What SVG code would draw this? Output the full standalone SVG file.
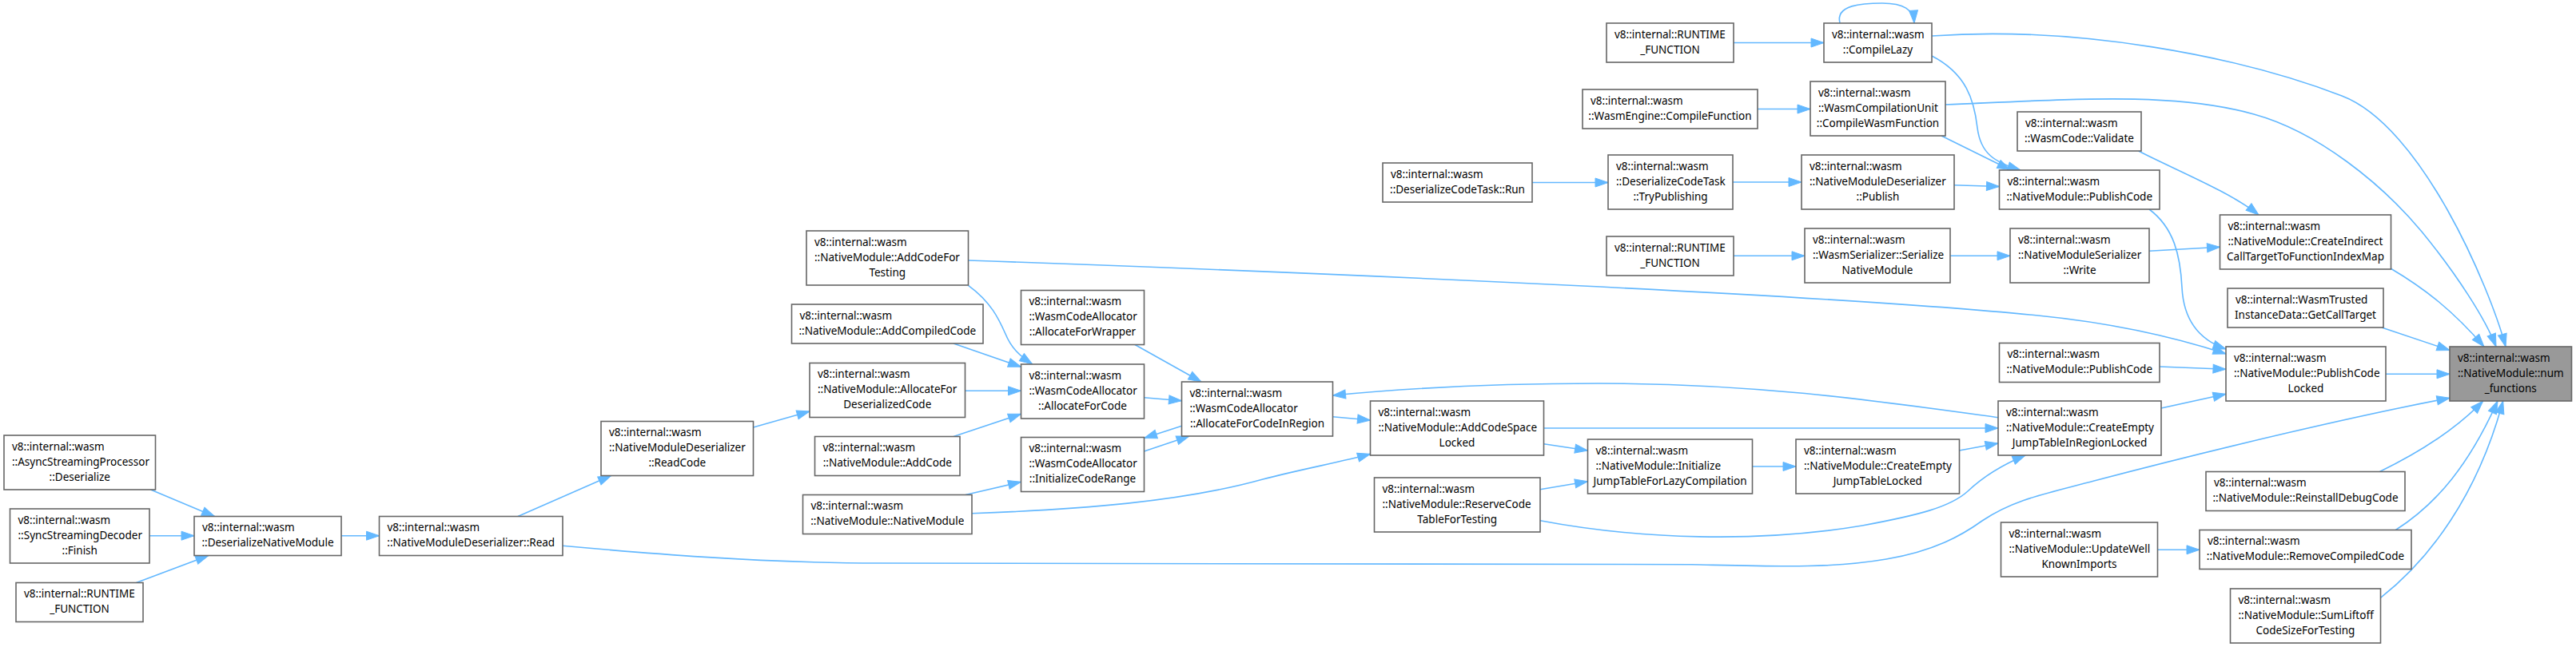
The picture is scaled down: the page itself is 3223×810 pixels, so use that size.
<svg xmlns="http://www.w3.org/2000/svg" width="3223" height="810" viewBox="0 0 3223 810">
<style>
.node rect{fill:#ffffff;stroke:#666666;stroke-width:1.6}
#n_num rect{fill:#999999}
text{font-family:"Noto Sans","Liberation Sans",sans-serif;font-size:13.5px;fill:#000000}
.c{text-anchor:middle}
.edges path{fill:none;stroke:#63b8ff;stroke-width:1.6;marker-end:url(#arr)}
</style>
<defs>
<marker id="arr" markerUnits="userSpaceOnUse" markerWidth="17" markerHeight="12" refX="16" refY="5.5" orient="auto" overflow="visible">
<path d="M0,0 L16,5.5 L0,11 z" fill="#63b8ff" stroke="#63b8ff" stroke-width="1"/>
</marker>
</defs>
<rect x="0" y="0" width="3223" height="810" fill="#ffffff"/>
<g class="edges" id="edges">
<path d="M2169,53.5 L2282,53.5"/>
<path d="M2302,29 C2296,6 2330,4 2355,4 C2382,4 2394,12 2395,29"/>
<path d="M2417,45 C2600,32 2800,70 2930,120 C3030,158 3115,360 3135,434"/>
<path d="M2417,70 C2460,92 2470,125 2474,160 C2478,192 2495,203 2528,213"/>
<path d="M2199,136.5 L2265,136.5"/>
<path d="M2434,131 C2600,124 2720,115 2820,143 C2900,165 2980,230 3030,290 C3075,345 3110,400 3123,434"/>
<path d="M2429,170 L2515,212.5"/>
<path d="M1917,228.5 L2012,228.5"/>
<path d="M2168,228 L2254,228"/>
<path d="M2445,231.7 L2501.5,233.5"/>
<path d="M2169,320.3 L2258,320.3"/>
<path d="M2440,320.3 L2515,320.3"/>
<path d="M2689,314.3 L2777.5,309.3"/>
<path d="M2675.6,189 C2720,212 2790,240 2826,269"/>
<path d="M2689,262 C2720,285 2728,320 2730,360 C2732,400 2750,425 2785,437"/>
<path d="M2991,336 C3035,362 3070,390 3108,434"/>
<path d="M2980,410 L3065,438.5"/>
<path d="M1211.5,326 C1700,343 2300,370 2550,395 C2650,405 2730,425 2785,443"/>
<path d="M2702,459 L2785,462.3"/>
<path d="M2704,511 L2785,493.3"/>
<path d="M2985,468.3 L3065,468.3"/>
<path d="M2500,522.7 C2350,502 2200,480 2000,480 C1850,480 1750,487 1667.5,495"/>
<path d="M1667.5,521.7 L1714.5,526"/>
<path d="M1931.5,536 L2500,536"/>
<path d="M1931.5,555.7 L1986.5,564"/>
<path d="M1927,612.7 L1986.5,602.7"/>
<path d="M2192.5,584 L2247,584"/>
<path d="M2451.5,564 L2500,555"/>
<path d="M1927,651.7 C2050,675 2200,680 2330,658 C2400,645 2440,635 2462,615 C2482,596 2505,582 2534,570"/>
<path d="M1216,642.7 C1350,638 1480,628 1580,600 C1630,587 1680,578 1714.5,568.3"/>
<path d="M1208,619.5 L1277.5,603.3"/>
<path d="M1431.5,565 L1488,546"/>
<path d="M1478.5,533.3 L1431.5,548.5"/>
<path d="M1431.5,497.7 L1478.5,501.7"/>
<path d="M1420,431.5 L1503,478"/>
<path d="M1193,430 L1277.5,459.3"/>
<path d="M1211.5,357.3 C1240,378 1250,400 1258,418 C1265,435 1275,445 1291.7,456"/>
<path d="M1207.5,489.3 L1277.5,489.3"/>
<path d="M1193,546.5 L1277.5,518.3"/>
<path d="M942.5,535 L1013,515"/>
<path d="M648,646.5 L764.5,595.5"/>
<path d="M704,683.3 C800,692 950,705 1100,705 L2116,706.7 C2220,709 2290,712 2360,700 C2420,690 2455,670 2480,652 C2520,625 2560,618 2620,602 C2780,560 2950,520 3065,498.3"/>
<path d="M427,670.7 L474.5,670.7"/>
<path d="M188.5,613 L268.5,646.5"/>
<path d="M187,670.7 L243,670.7"/>
<path d="M170.5,729.5 L260.8,695.5"/>
<path d="M2977.4,590.5 C3030,565 3075,535 3106.7,502"/>
<path d="M2997.4,663.5 C3050,630 3090,580 3125,502"/>
<path d="M2699.5,688.3 L2752,688.3"/>
<path d="M2978.5,748.3 C3040,700 3100,620 3131.7,502"/>
</g>
<g class="node" id="n_rt1"><rect x="2010" y="29" width="159" height="49"/><text x="2020" y="47.5">v8::internal::RUNTIME</text><text class="c" x="2089.5" y="66.5">_FUNCTION</text></g>
<g class="node" id="n_lazy"><rect x="2282" y="29" width="135" height="49"/><text x="2292" y="47.5">v8::internal::wasm</text><text class="c" x="2349.5" y="66.5">::CompileLazy</text></g>
<g class="node" id="n_cf"><rect x="1980" y="112" width="219" height="49"/><text x="1990" y="130.5">v8::internal::wasm</text><text class="c" x="2089.5" y="149.5">::WasmEngine::CompileFunction</text></g>
<g class="node" id="n_cwf"><rect x="2265" y="102" width="169" height="68"/><text x="2275" y="120.5">v8::internal::wasm</text><text x="2275" y="139.5">::WasmCompilationUnit</text><text class="c" x="2349.5" y="158.5">::CompileWasmFunction</text></g>
<g class="node" id="n_dct"><rect x="1730" y="204" width="187" height="49"/><text x="1740" y="222.5">v8::internal::wasm</text><text class="c" x="1823.5" y="241.5">::DeserializeCodeTask::Run</text></g>
<g class="node" id="n_tp"><rect x="2012" y="194" width="156" height="68"/><text x="2022" y="212.5">v8::internal::wasm</text><text x="2022" y="231.5">::DeserializeCodeTask</text><text class="c" x="2090" y="250.5">::TryPublishing</text></g>
<g class="node" id="n_pub"><rect x="2254" y="194" width="191" height="68"/><text x="2264" y="212.5">v8::internal::wasm</text><text x="2264" y="231.5">::NativeModuleDeserializer</text><text class="c" x="2349.5" y="250.5">::Publish</text></g>
<g class="node" id="n_rt2"><rect x="2010" y="296" width="159" height="49"/><text x="2020" y="314.5">v8::internal::RUNTIME</text><text class="c" x="2089.5" y="333.5">_FUNCTION</text></g>
<g class="node" id="n_ser"><rect x="2258" y="286" width="182" height="68"/><text x="2268" y="304.5">v8::internal::wasm</text><text x="2268" y="323.5">::WasmSerializer::Serialize</text><text class="c" x="2349" y="342.5">NativeModule</text></g>
<g class="node" id="n_val"><rect x="2524" y="140" width="155" height="49"/><text x="2534" y="158.5">v8::internal::wasm</text><text class="c" x="2601.5" y="177.5">::WasmCode::Validate</text></g>
<g class="node" id="n_pc1"><rect x="2501.5" y="213" width="200.5" height="49"/><text x="2511.5" y="231.5">v8::internal::wasm</text><text class="c" x="2601.75" y="250.5">::NativeModule::PublishCode</text></g>
<g class="node" id="n_wr"><rect x="2515" y="286" width="174" height="68"/><text x="2525" y="304.5">v8::internal::wasm</text><text x="2525" y="323.5">::NativeModuleSerializer</text><text class="c" x="2602" y="342.5">::Write</text></g>
<g class="node" id="n_ci"><rect x="2777.5" y="269" width="214" height="68"/><text x="2787.5" y="287.5">v8::internal::wasm</text><text x="2787.5" y="306.5">::NativeModule::CreateIndirect</text><text class="c" x="2884.5" y="325.5">CallTargetToFunctionIndexMap</text></g>
<g class="node" id="n_gct"><rect x="2787" y="361" width="195" height="49"/><text x="2797" y="379.5">v8::internal::WasmTrusted</text><text class="c" x="2884.5" y="398.5">InstanceData::GetCallTarget</text></g>
<g class="node" id="n_num"><rect x="3065" y="434" width="152.5" height="68"/><text x="3075" y="452.5">v8::internal::wasm</text><text x="3075" y="471.5">::NativeModule::num</text><text class="c" x="3141.25" y="490.5">_functions</text></g>
<g class="node" id="n_pcl"><rect x="2785" y="434" width="200" height="68"/><text x="2795" y="452.5">v8::internal::wasm</text><text x="2795" y="471.5">::NativeModule::PublishCode</text><text class="c" x="2885" y="490.5">Locked</text></g>
<g class="node" id="n_pc2"><rect x="2501.5" y="429.5" width="200.5" height="49"/><text x="2511.5" y="448">v8::internal::wasm</text><text class="c" x="2601.75" y="467">::NativeModule::PublishCode</text></g>
<g class="node" id="n_cejr"><rect x="2500" y="502" width="204" height="68"/><text x="2510" y="520.5">v8::internal::wasm</text><text x="2510" y="539.5">::NativeModule::CreateEmpty</text><text class="c" x="2602" y="558.5">JumpTableInRegionLocked</text></g>
<g class="node" id="n_rdc"><rect x="2760" y="590.5" width="249" height="49"/><text x="2770" y="609">v8::internal::wasm</text><text class="c" x="2884.5" y="628">::NativeModule::ReinstallDebugCode</text></g>
<g class="node" id="n_uwk"><rect x="2503.5" y="654" width="196" height="68"/><text x="2513.5" y="672.5">v8::internal::wasm</text><text x="2513.5" y="691.5">::NativeModule::UpdateWell</text><text class="c" x="2601.5" y="710.5">KnownImports</text></g>
<g class="node" id="n_rcc"><rect x="2752" y="663.5" width="265" height="49"/><text x="2762" y="682">v8::internal::wasm</text><text class="c" x="2884.5" y="701">::NativeModule::RemoveCompiledCode</text></g>
<g class="node" id="n_sl"><rect x="2790.5" y="737" width="188" height="68"/><text x="2800.5" y="755.5">v8::internal::wasm</text><text x="2800.5" y="774.5">::NativeModule::SumLiftoff</text><text class="c" x="2884.5" y="793.5">CodeSizeForTesting</text></g>
<g class="node" id="n_cej"><rect x="2247" y="550" width="204.5" height="68"/><text x="2257" y="568.5">v8::internal::wasm</text><text x="2257" y="587.5">::NativeModule::CreateEmpty</text><text class="c" x="2349.25" y="606.5">JumpTableLocked</text></g>
<g class="node" id="n_ijt"><rect x="1986.5" y="550" width="206" height="68"/><text x="1996.5" y="568.5">v8::internal::wasm</text><text x="1996.5" y="587.5">::NativeModule::Initialize</text><text class="c" x="2089.5" y="606.5">JumpTableForLazyCompilation</text></g>
<g class="node" id="n_acs"><rect x="1714.5" y="502" width="217" height="68"/><text x="1724.5" y="520.5">v8::internal::wasm</text><text x="1724.5" y="539.5">::NativeModule::AddCodeSpace</text><text class="c" x="1823" y="558.5">Locked</text></g>
<g class="node" id="n_rct"><rect x="1719.5" y="598" width="207.5" height="68"/><text x="1729.5" y="616.5">v8::internal::wasm</text><text x="1729.5" y="635.5">::NativeModule::ReserveCode</text><text class="c" x="1823.25" y="654.5">TableForTesting</text></g>
<g class="node" id="n_afcir"><rect x="1478.5" y="478" width="189" height="68"/><text x="1488.5" y="496.5">v8::internal::wasm</text><text x="1488.5" y="515.5">::WasmCodeAllocator</text><text class="c" x="1573" y="534.5">::AllocateForCodeInRegion</text></g>
<g class="node" id="n_afw"><rect x="1277.5" y="363.5" width="154" height="68"/><text x="1287.5" y="382">v8::internal::wasm</text><text x="1287.5" y="401">::WasmCodeAllocator</text><text class="c" x="1354.5" y="420">::AllocateForWrapper</text></g>
<g class="node" id="n_afc"><rect x="1277.5" y="456" width="154" height="68"/><text x="1287.5" y="474.5">v8::internal::wasm</text><text x="1287.5" y="493.5">::WasmCodeAllocator</text><text class="c" x="1354.5" y="512.5">::AllocateForCode</text></g>
<g class="node" id="n_icr"><rect x="1277.5" y="547.5" width="154" height="68"/><text x="1287.5" y="566">v8::internal::wasm</text><text x="1287.5" y="585">::WasmCodeAllocator</text><text class="c" x="1354.5" y="604">::InitializeCodeRange</text></g>
<g class="node" id="n_acc"><rect x="990.5" y="381" width="239.5" height="49"/><text x="1000.5" y="399.5">v8::internal::wasm</text><text class="c" x="1110.25" y="418.5">::NativeModule::AddCompiledCode</text></g>
<g class="node" id="n_afdc"><rect x="1013" y="454.5" width="194.5" height="68"/><text x="1023" y="473">v8::internal::wasm</text><text x="1023" y="492">::NativeModule::AllocateFor</text><text class="c" x="1110.25" y="511">DeserializedCode</text></g>
<g class="node" id="n_ac"><rect x="1019.5" y="546.5" width="181.5" height="49"/><text x="1029.5" y="565">v8::internal::wasm</text><text class="c" x="1110.25" y="584">::NativeModule::AddCode</text></g>
<g class="node" id="n_nm"><rect x="1004.5" y="619.5" width="211.5" height="49"/><text x="1014.5" y="638">v8::internal::wasm</text><text class="c" x="1110.25" y="657">::NativeModule::NativeModule</text></g>
<g class="node" id="n_rc"><rect x="752" y="527.5" width="190.5" height="68"/><text x="762" y="546">v8::internal::wasm</text><text x="762" y="565">::NativeModuleDeserializer</text><text class="c" x="847.25" y="584">::ReadCode</text></g>
<g class="node" id="n_aft"><rect x="1009" y="289" width="202.5" height="68"/><text x="1019" y="307.5">v8::internal::wasm</text><text x="1019" y="326.5">::NativeModule::AddCodeFor</text><text class="c" x="1110.25" y="345.5">Testing</text></g>
<g class="node" id="n_asp"><rect x="5" y="545" width="189.5" height="68"/><text x="15" y="563.5">v8::internal::wasm</text><text x="15" y="582.5">::AsyncStreamingProcessor</text><text class="c" x="99.75" y="601.5">::Deserialize</text></g>
<g class="node" id="n_ssd"><rect x="12.5" y="637" width="174.5" height="68"/><text x="22.5" y="655.5">v8::internal::wasm</text><text x="22.5" y="674.5">::SyncStreamingDecoder</text><text class="c" x="99.75" y="693.5">::Finish</text></g>
<g class="node" id="n_rt3"><rect x="20" y="729.5" width="159" height="49"/><text x="30" y="748">v8::internal::RUNTIME</text><text class="c" x="99.5" y="767">_FUNCTION</text></g>
<g class="node" id="n_dnm"><rect x="243" y="646.5" width="184" height="49"/><text x="253" y="665">v8::internal::wasm</text><text class="c" x="335" y="684">::DeserializeNativeModule</text></g>
<g class="node" id="n_read"><rect x="474.5" y="646.5" width="229.5" height="49"/><text x="484.5" y="665">v8::internal::wasm</text><text class="c" x="589.25" y="684">::NativeModuleDeserializer::Read</text></g>
</svg>
